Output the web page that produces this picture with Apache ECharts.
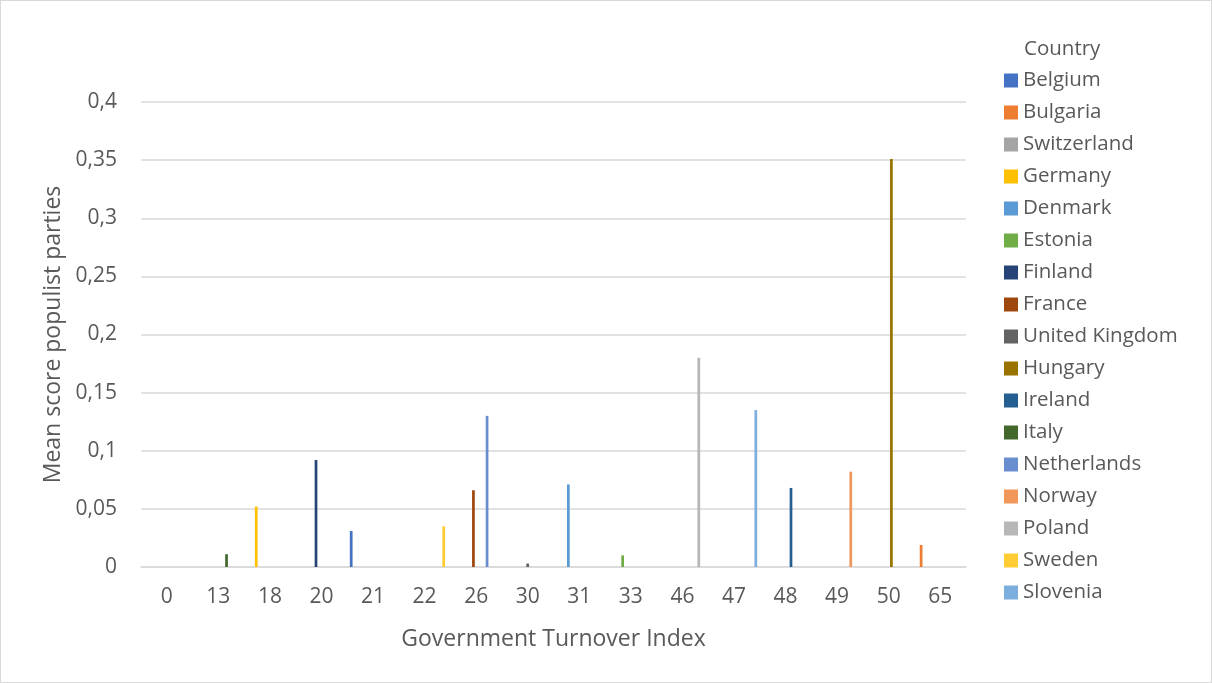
<!DOCTYPE html>
<html>
<head>
<meta charset="utf-8">
<script src="https://cdn.jsdelivr.net/npm/echarts@6/dist/echarts.min.js"></script>
<style>
html,body{margin:0;padding:0;background:#fff;}
#frame{position:absolute;left:0;top:0;width:1210px;height:681px;border:1px solid #D9D9D9;}
#chart{position:absolute;left:0;top:0;width:1212px;height:683px;}
</style>
</head>
<body>
<div id="frame"></div>
<div id="chart"></div>
<script>
// Categories: Government Turnover Index
const categories = ['0','13','18','20','21','22','26','30','31','33','46','47','48','49','50','65'];
// Countries (series), in legend order
const countries = ['Belgium','Bulgaria','Switzerland','Germany','Denmark','Estonia','Finland','France','United Kingdom','Hungary','Ireland','Italy','Netherlands','Norway','Poland','Sweden','Slovenia'];
const countryColors = ['#4472C4','#ED7D31','#A5A5A5','#FFC000','#5B9BD5','#70AD47','#264478','#9E480E','#636363','#997300','#255E91','#43682B','#698ED0','#F1975A','#B7B7B7','#FFCD33','#7CAFDD'];
// Observed bars: category, country, mean score
const barCategory = ['13','18','20','21','22','26','26','30','31','33','46','47','48','49','50','65'];
const barCountry  = ['Italy','Germany','Finland','Belgium','Sweden','France','Netherlands','United Kingdom','Denmark','Estonia','Poland','Slovenia','Ireland','Norway','Hungary','Bulgaria'];
const barValue    = [0.011, 0.052, 0.092, 0.031, 0.035, 0.066, 0.130, 0.003, 0.071, 0.010, 0.180, 0.135, 0.068, 0.082, 0.351, 0.019];
const yTicks = [0,0.05,0.1,0.15,0.2,0.25,0.3,0.35,0.4];

const FONT = '"Open Sans", "Liberation Sans", sans-serif';
const series = countries.map((c, si) => {
  const data = categories.map(() => null);
  barCountry.forEach((bc, k) => {
    if (bc === c) data[categories.indexOf(barCategory[k])] = barValue[k];
  });
  return {
    name: c, type: 'bar', data: data,
    barGap: '0%', barCategoryGap: '10%',
    itemStyle: { color: countryColors[si] },
    emphasis: { disabled: true }
  };
});

const chart = echarts.init(document.getElementById('chart'), null, {renderer: 'canvas'});
chart.setOption({
  animation: false,
  textStyle: { fontFamily: FONT },
  title: {
    text: 'Country', left: 1019, top: 34,
    textStyle: { fontFamily: FONT, fontSize: 20.5, fontWeight: 'normal', color: '#595959' }
  },
  legend: {
    orient: 'vertical', left: 999, top: 65,
    itemWidth: 14, itemHeight: 14, itemGap: 11,
    icon: 'rect',
    textStyle: { fontFamily: FONT, fontSize: 20.5, color: '#595959', lineHeight: 20 },
    data: countries
  },
  grid: { left: 141, right: 246, top: 102, bottom: 116, containLabel: false },
  xAxis: {
    type: 'category', data: categories,
    name: 'Government Turnover Index', nameLocation: 'middle', nameGap: 61,
    nameTextStyle: { fontFamily: FONT, fontSize: 23, color: '#595959' },
    axisLine: { lineStyle: { color: '#D9D9D9', width: 1.5 } },
    axisTick: { show: false },
    axisLabel: { fontFamily: FONT, fontSize: 21, color: '#595959', margin: 20 }
  },
  yAxis: {
    type: 'value', min: 0, max: 0.4, interval: 0.05,
    name: 'Mean score populist parties', nameLocation: 'middle', nameGap: 75, nameRotate: 90,
    nameTextStyle: { fontFamily: FONT, fontSize: 23, color: '#595959' },
    axisLine: { show: false }, axisTick: { show: false },
    splitLine: { lineStyle: { color: '#D9D9D9', width: 1.5 } },
    axisLabel: {
      fontFamily: FONT, fontSize: 21, color: '#595959', margin: 24,
      formatter: v => {
        const t = yTicks.find(x => Math.abs(x - v) < 1e-9);
        return String(Math.round((t === undefined ? v : t) * 100) / 100).replace('.', ',');
      }
    }
  },
  series: series
});
</script>
</body>
</html>
